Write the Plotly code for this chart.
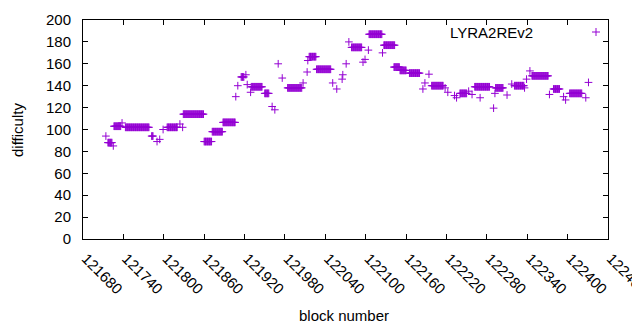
import numpy as np
import plotly.graph_objects as go

# Runs of consecutive blocks: (first block, last block, difficulty)
run_start = [121714, 121717, 121725, 121726, 121738, 121743, 121782, 121790, 121794, 121799,
             121805, 121824, 121828, 121829, 121860, 121872, 121888, 121907, 121910, 121915,
             121922, 121924, 121929, 121930, 121950, 121961, 121965, 121970, 121976, 121984,
             122007, 122013, 122014, 122016, 122027, 122051, 122057, 122065, 122066, 122071,
             122075, 122079, 122096, 122099, 122104, 122105, 122125, 122127, 122142, 122151,
             122165, 122185, 122188, 122194, 122198, 122218, 122222, 122232, 122235, 122240,
             122253, 122258, 122262, 122270, 122290, 122292, 122293, 122310, 122317, 122321,
             122336, 122339, 122344, 122347, 122373, 122379, 122394, 122397, 122403, 122427,
             122431]
run_end = [121714, 121723, 121725, 121736, 121738, 121778, 121784, 121790, 121794, 121799,
           121820, 121824, 121828, 121859, 121871, 121887, 121906, 121907, 121910, 121919,
           121922, 121924, 121929, 121946, 121956, 121961, 121965, 121970, 121976, 122005,
           122007, 122013, 122014, 122026, 122048, 122051, 122057, 122065, 122066, 122071,
           122075, 122094, 122096, 122099, 122104, 122124, 122125, 122143, 122150, 122160,
           122180, 122185, 122188, 122194, 122215, 122218, 122222, 122232, 122235, 122250,
           122253, 122258, 122284, 122270, 122290, 122292, 122304, 122310, 122317, 122335,
           122336, 122339, 122344, 122371, 122373, 122388, 122394, 122397, 122421, 122427,
           122431]
run_value = [94, 88, 85, 103, 106, 102, 94, 89, 91, 100,
             102, 105, 102, 114, 89, 98, 106.5, 130, 140, 148,
             150, 141, 134, 139, 133, 121, 118, 160, 147, 138,
             142.5, 152.5, 163, 166.5, 155, 142.5, 137, 146, 150, 160,
             180, 175, 161.5, 164, 172.5, 187, 170, 177, 157, 154,
             151.5, 137, 142.5, 150.5, 140, 138, 134, 131, 129, 133,
             135, 132, 139, 129, 119.5, 133, 138, 131.5, 141.5, 140,
             138, 146, 153.5, 149, 132, 137, 130, 127, 133, 129,
             143]

x_ticks = [121680, 121740, 121800, 121860, 121920, 121980, 122040, 122100,
           122160, 122220, 122280, 122340, 122400, 122460]
y_ticks = [0, 20, 40, 60, 80, 100, 120, 140, 160, 180, 200]

blocks, diffs = [], []
for s, e, v in zip(run_start, run_end, run_value):
    for b in range(s, e + 1):
        blocks.append(b)
        diffs.append(v)

COLOR = "#9400D3"
FONT = "Liberation Sans, Arial, sans-serif"
FS = 15

# the page body has an 8px margin, so the figure is offset by (8, 8) in the window
OFF = 8
W, H = 640 - OFF, 330 - OFF
# plot area in window pixels
L, R, T, B = 83, 608, 20, 239

def px(x):
    return (x - L) / (R - L)

def py(y):
    return (B - y) / (B - T)

fig = go.Figure()
fig.add_trace(go.Scatter(
    x=blocks, y=diffs, mode="markers", name="LYRA2REv2",
    marker=dict(symbol="cross-thin", size=5.5, color=COLOR,
                line=dict(color=COLOR, width=1)),
    showlegend=False,
))

axis_common = dict(
    showgrid=False, zeroline=False, showline=True, linecolor="black", linewidth=1,
    mirror="allticks", ticks="inside", ticklen=5, tickcolor="black", tickwidth=1,
    tickfont=dict(family=FONT, size=FS, color="black"), automargin=False,
    ticklabeloverflow="allow",
)

fig.update_layout(
    width=W, height=H,
    margin=dict(l=L - OFF, r=W - (R - OFF), t=T - OFF, b=H - (B - OFF), autoexpand=False),
    paper_bgcolor="white", plot_bgcolor="white",
    font=dict(family=FONT, size=FS, color="black"),
    xaxis=dict(range=[121680, 122460], tickvals=x_ticks, ticklabelstandoff=4, ticklabelshift=3,
               ticktext=[str(t) for t in x_ticks], tickangle=45, **axis_common),
    yaxis=dict(range=[0, 200], tickvals=y_ticks, ticklabelstandoff=8,
               ticktext=[str(t) for t in y_ticks], **axis_common),
    annotations=[
        dict(xref="paper", yref="paper", x=px(344), y=py(315), xanchor="center", yanchor="middle",
             text="block number", showarrow=False, font=dict(family=FONT, size=FS)),
        dict(xref="paper", yref="paper", x=px(17), y=py(130), xanchor="center", yanchor="middle",
             text="difficulty", textangle=-90, showarrow=False, font=dict(family=FONT, size=FS)),
        dict(xref="paper", yref="paper", x=px(535), y=py(32), xanchor="right", yanchor="middle",
             text="LYRA2REv2", showarrow=False, font=dict(family=FONT, size=FS, color="black")),
    ],
    shapes=[
        dict(type="line", xref="paper", yref="paper", x0=px(592), x1=px(600), y0=py(32), y1=py(32),
             line=dict(color=COLOR, width=1)),
        dict(type="line", xref="paper", yref="paper", x0=px(596), x1=px(596), y0=py(28), y1=py(36),
             line=dict(color=COLOR, width=1)),
    ],
)

fig.write_html("out.html")
